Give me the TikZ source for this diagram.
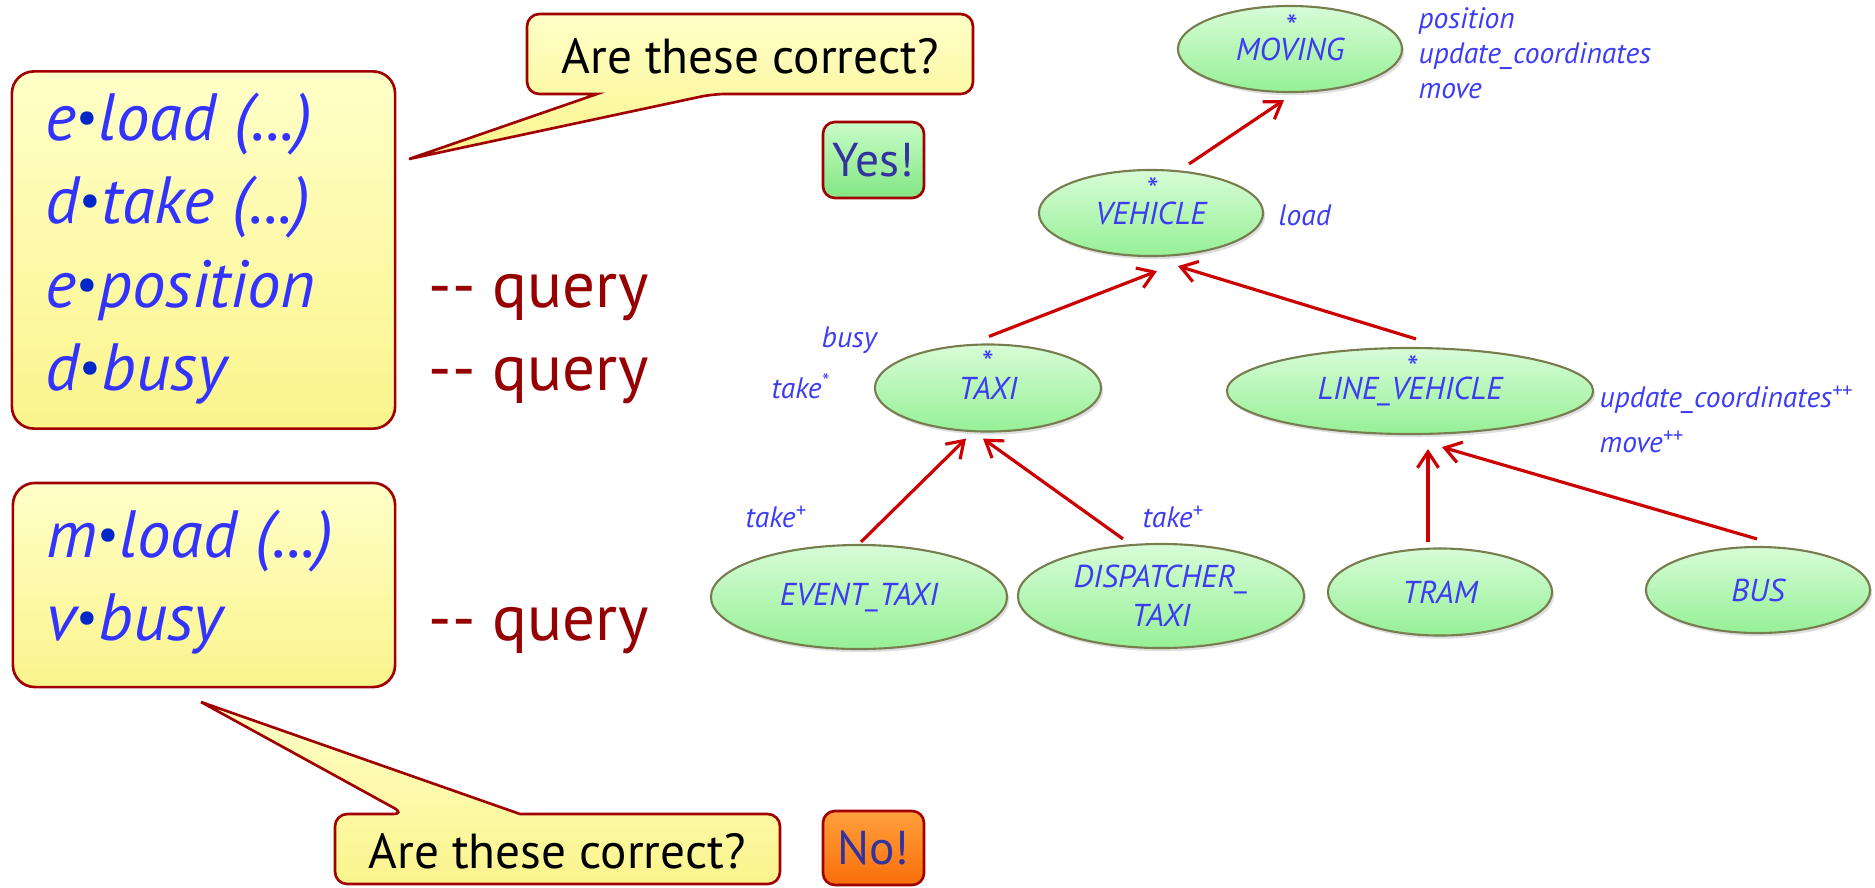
\documentclass[tikz,border=0pt]{standalone}
\usepackage{fontspec}
\setmainfont{PT Sans}
\usetikzlibrary{arrows.meta,calc,shadows,shapes.geometric}

\definecolor{codeblue}{RGB}{51,51,255}
\definecolor{dotblue}{RGB}{0,40,200}
\definecolor{queryred}{RGB}{150,0,0}
\definecolor{boxred}{RGB}{160,0,0}
\definecolor{arrowred}{RGB}{204,0,0}
\definecolor{noteTop}{RGB}{255,255,200}
\definecolor{noteBot}{RGB}{250,244,140}
\definecolor{verdictblue}{RGB}{51,51,160}
\definecolor{yesTop}{RGB}{200,252,200}
\definecolor{yesBot}{RGB}{130,230,130}
\definecolor{noTop}{RGB}{255,160,60}
\definecolor{noBot}{RGB}{250,110,10}
\definecolor{clsTop}{RGB}{215,252,215}
\definecolor{clsBot}{RGB}{150,240,150}
\definecolor{clsborder}{RGB}{120,125,80}
\definecolor{clsblue}{RGB}{60,60,245}

% feature-call dot: small, dark blue, centred on the x-height
\newcommand\featdot{{\upshape\color{dotblue}\raisebox{0.1em}{\scalebox{0.72}{\textbullet}}}}

\tikzset{
  note/.style={draw=boxred, line width=0.75pt, rounded corners=0.22cm,
    top color=noteTop, bottom color=noteBot, inner sep=0pt},
  callout/.style={draw=boxred, line width=0.75pt, top color=noteTop, bottom color=noteBot},
  code/.style={anchor=base west, inner sep=0pt, text=codeblue,
    font=\fontsize{19}{22}\selectfont\itshape},
  query/.style={anchor=base west, inner sep=0pt, text=queryred,
    font=\fontsize{18.5}{22}\selectfont},
  ask/.style={anchor=base, inner sep=0pt, text=black,
    font=\fontsize{14}{16}\selectfont},
  verdict/.style={draw=boxred, line width=0.75pt, rounded corners=0.12cm,
    inner sep=0pt, text=verdictblue, font=\fontsize{13.5}{15}\selectfont},
  cls/.style={ellipse, draw=clsborder, line width=0.6pt, top color=clsTop,
    bottom color=clsBot, inner sep=0pt, text=clsblue, align=center,
    font=\fontsize{9}{11}\selectfont\itshape,
    drop shadow={opacity=0.25, shadow xshift=0.6pt, shadow yshift=-0.9pt}},
  deferred/.style={anchor=base, inner sep=0pt, text=clsblue, text height=4pt,
    font=\fontsize{9.5}{10}\selectfont},
  feat/.style={anchor=base west, inner sep=0pt, text=clsblue,
    font=\fontsize{8.4}{10}\selectfont\itshape},
  inherit/.style={draw=arrowred, line width=0.9pt,
    -{Straight Barb[length=4.5pt,width=6pt,line width=0.9pt]}},
}

\begin{document}
\begin{tikzpicture}[x=0.01cm, y=-0.01cm]
\useasboundingbox (0,0) rectangle (1875,887);

% ---- first group of calls ----
\node[note, minimum width=3.83cm, minimum height=3.57cm] (calls1) at (203.5,250) {};
\node[code] (c1) at (45,140) {e\featdot load (...)};
\node[code] (c2) at (45,223) {d\featdot take (...)};
\node[code] (c3) at (45,307) {e\featdot position};
\node[code] (c4) at (45,390) {d\featdot busy};
\node[query] (q1) at (428,307) {-{}- query};
\node[query] (q2) at (428,390) {-{}- query};

% ---- second group of calls ----
\node[note, minimum width=3.82cm, minimum height=2.04cm] (calls2) at (204,585) {};
\node[code] (c5) at (46,557) {m\featdot load (...)};
\node[code] (c6) at (46,640) {v\featdot busy};
\node[query] (q3) at (428,640) {-{}- query};

% ---- speech bubbles (outline starts at the sharp tip) ----
\path[callout] (409,159) -- (597,94) [rounded corners=3.5pt] -- (527,94) -- (527,14)
  -- (973,14) -- (973,94) -- (713,94) [sharp corners] -- cycle;
\node[ask] (ask1) at (750,73) {Are these correct?};

\path[callout] (201,702) -- (520,814) [rounded corners=3.5pt] -- (780,814) -- (780,884)
  -- (335,884) -- (335,814) -- (405,814) [sharp corners] -- cycle;
\node[ask] (ask2) at (557,868) {Are these correct?};

% ---- answers ----
\node[verdict, top color=yesTop, bottom color=yesBot,
  minimum width=1.01cm, minimum height=0.76cm] (yes) at (873.5,160) {Yes!};
\node[verdict, top color=noTop, bottom color=noBot,
  minimum width=1.01cm, minimum height=0.74cm] (no) at (873.5,848) {No!};

% ---- class hierarchy ----
\node[cls, minimum width=2.24cm, minimum height=0.86cm] (moving)  at (1290,49)  {MOVING};
\node[cls, minimum width=2.24cm, minimum height=0.86cm] (vehicle) at (1151,213) {VEHICLE};
\node[cls, minimum width=2.26cm, minimum height=0.87cm] (taxi)    at (988,388)  {TAXI};
\node[cls, minimum width=3.66cm, minimum height=0.86cm] (linev)   at (1410,391) {LINE\_VEHICLE};
\node[cls, minimum width=2.96cm, minimum height=1.04cm] (etaxi)   at (859,597)  {EVENT\_TAXI};
\node[cls, minimum width=2.86cm, minimum height=1.04cm] (dtaxi)   at (1161,596) {DISPATCHER\_\\TAXI};
\node[cls, minimum width=2.24cm, minimum height=0.87cm] (tram)    at (1440,592) {TRAM};
\node[cls, minimum width=2.24cm, minimum height=0.86cm] (bus)     at (1758,590) {BUS};

% deferred markers
\node[deferred] (movingstar)  at (1292,38)  {*};
\node[deferred] (vehiclestar) at (1153,201) {*};
\node[deferred] (taxistar)    at (988,374)  {*};
\node[deferred] (linevstar)   at (1413,379) {*};

% inheritance links
\draw[inherit] ($(vehicle.north)+(38,-5)$) -- ($(moving.south)+(-6,7)$);
\draw[inherit] ($(taxi.north)+(1,-7)$)     -- ($(vehicle.south)+(6,14)$);
\draw[inherit] ($(linev.north)+(6,-8)$)    -- ($(vehicle.south)+(27,9)$);
\draw[inherit] ($(etaxi.north)+(2,-2)$)    -- ($(taxi.south)+(-22,6)$);
\draw[inherit] ($(dtaxi.north)+(-38,-4)$)  -- ($(taxi.south)+(-5,6)$);
\draw[inherit] ($(tram.north)+(-12,-5)$)   -- ($(linev.south)+(18,14)$);
\draw[inherit] ($(bus.north)+(-1,-7)$)     -- ($(linev.south)+(32,12)$);

% features
\node[feat] (fpos)  at (1418,28)  {position};
\node[feat] (fupd)  at (1418,63)  {update\_coordinates};
\node[feat] (fmov)  at (1418,98)  {move};
\node[feat] (fload) at (1278,225) {load};
\node[feat] (fbusy) at (821,347)  {busy};
\node[feat] (ftake) at (771,398)  {take\textsuperscript{*}};
\node[feat] (fupd2) at (1599,407) {update\_coordinates\textsuperscript{++}};
\node[feat] (fmov2) at (1599,452) {move\textsuperscript{++}};
\node[feat] (ftk1)  at (745,527)  {take\textsuperscript{+}};
\node[feat] (ftk2)  at (1142,527) {take\textsuperscript{+}};
\end{tikzpicture}
\end{document}
